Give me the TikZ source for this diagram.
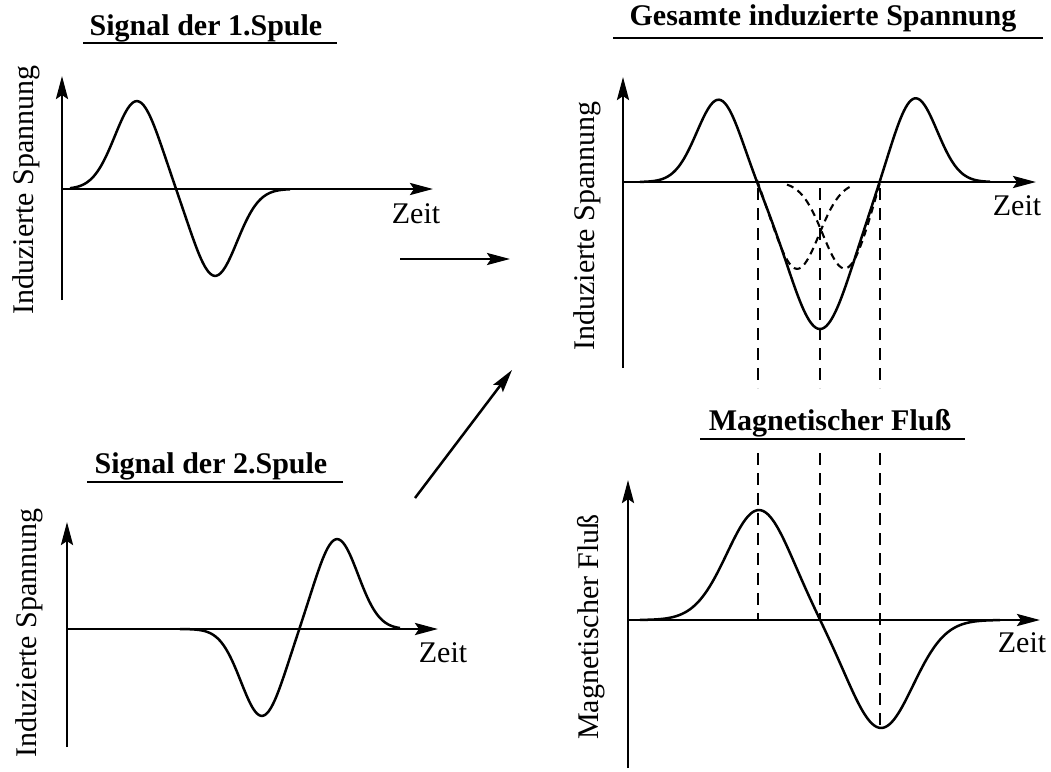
\documentclass[tikz,border=0pt]{standalone}
\usepackage{fontspec}
\setmainfont{Liberation Serif}
\usetikzlibrary{arrows.meta}
\tikzset{
  ind axis/.style={draw=black, line width=2.9pt, -{Stealth[length=23pt,width=12pt,inset=4pt]}},
  ind flow/.style={draw=black, line width=2.5pt, -{Stealth[length=23pt,width=12pt,inset=4pt]}},
  ind curve/.style={draw=black, line width=2.5pt, line join=round},
  ind part/.style={draw=black, line width=2.1pt, dash pattern=on 7pt off 5pt},
  ind guide/.style={draw=black, line width=2.4pt, dash pattern=on 12pt off 8pt},
  ind rule/.style={draw=black, line width=2.2pt},
  ind title/.style={font=\fontsize{30}{36}\selectfont\bfseries, anchor=base, inner sep=0pt},
  ind label/.style={font=\fontsize{30}{36}\selectfont, inner sep=0pt},
}

\begin{document}
\begin{tikzpicture}[x=1pt,y=-1pt,declare function={bump(\t)=exp(-0.5*\t*\t);}]
\useasboundingbox (0,0) rectangle (1051,771);
% signal der 1. spule
\node[ind title] (t1) at (206,35) {Signal der 1.Spule};
\draw[ind rule] (83,43) -- (337,43);
\draw[ind axis] (62,300) -- (62,76);
\draw[ind axis] (62,189) -- (433,189);
\draw[ind curve] plot[domain=70:290,samples=150] (\x,{189-88*bump((\x-137)/22)+87*bump((\x-215)/22)});
\node[ind label,rotate=90] (y1) at (26,190) {Induzierte Spannung};
\node[ind label] (z1) at (416,214) {Zeit};
% signal der 2. spule
\node[ind title] (t3) at (211,473) {Signal der 2.Spule};
\draw[ind rule] (87,482) -- (343,482);
\draw[ind axis] (67,747) -- (67,522);
\draw[ind axis] (67,629) -- (438,629);
\draw[ind curve] plot[domain=180:400,samples=150] (\x,{629+87*bump((\x-262)/21)-90*bump((\x-337)/21)});
\node[ind label,rotate=90] (y3) at (29,633) {Induzierte Spannung};
\node[ind label] (z3) at (443,653) {Zeit};
% gesamte spannung
\node[ind title] (t2) at (823,25) {Gesamte induzierte Spannung};
\draw[ind rule] (613,38) -- (1043,38);
\draw[ind axis] (623,368) -- (623,77);
\draw[ind axis] (623,182) -- (1036,182);
\draw[ind curve] plot[domain=640:990,samples=200] (\x,{182-83*bump((\x-719)/22)+147*bump((\x-820)/31)-85*bump((\x-915)/22)});
\draw[ind part] plot[domain=757:852,samples=60] (\x,{182-83*bump((\x-719)/22)+87*bump((\x-797)/22)});
\draw[ind part] plot[domain=787:881,samples=60] (\x,{182+87*bump((\x-845)/22)-85*bump((\x-915)/22)});
\node[ind label,rotate=90] (y2) at (587,226) {Induzierte Spannung};
\node[ind label] (z2) at (1017,206) {Zeit};
\foreach \gx in {758,820,880}{\draw[ind guide] (\gx,188) -- (\gx,388);}
% magnetischer fluss
\node[ind title] (t4) at (830,430) {Magnetischer Fluß};
\draw[ind rule] (700,439) -- (965,439);
\draw[ind axis] (628,768) -- (628,480);
\draw[ind axis] (628,620) -- (1040,620);
\draw[ind curve] plot[domain=640:1000,samples=200] (\x,{620-110*bump((\x-759)/32)+108*bump((\x-881)/32)});
\node[ind label,rotate=90] (y4) at (591,627) {Magnetischer Fluß};
\node[ind label] (z4) at (1022,643) {Zeit};
\draw[ind guide] (758,453) -- (758,620);
\draw[ind guide] (820,453) -- (820,620);
\draw[ind guide] (880,453) -- (880,728);
% pfeile
\coordinate (a1) at (400,259);
\coordinate (b1) at (510,259);
\coordinate (a2) at (415,498);
\coordinate (b2) at (512,370);
\draw[ind flow] (a1) -- (b1);
\draw[ind flow] (a2) -- (b2);
\end{tikzpicture}
\end{document}
